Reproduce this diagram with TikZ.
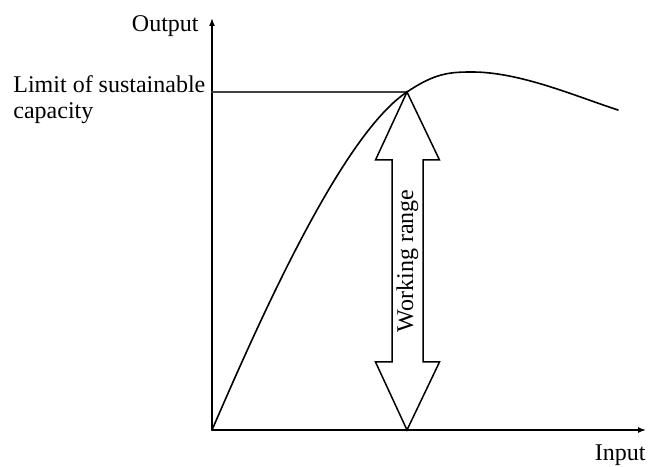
\documentclass[tikz,border=0pt]{standalone}
\usepackage{fontspec}
\setmainfont{Liberation Serif}
\usetikzlibrary{arrows.meta}
\begin{document}
\begin{tikzpicture}[x=25pt,y=25pt,line cap=round,line join=round,
  axis/.style={line width=0.75pt,-{Latex[length=4pt,width=3pt]}},
  lbl/.style={inner sep=0pt,font=\fontsize{12}{13}\selectfont}]
  \useasboundingbox (0,0) rectangle (12.96,9.32);
  \coordinate (O) at (4.24,0.72);
  \coordinate (Y) at (4.24,8.96);
  \coordinate (X) at (12.92,0.72);
  \coordinate (P) at (8.14,7.48);
  \coordinate (T) at (8.14,0.72);
  \coordinate (M) at (9.44,7.88);
  \coordinate (E) at (12.36,7.12);
  \draw[axis] (O) -- (Y);
  \draw[axis] (O) -- (X);
  \draw[line width=0.9pt,black!75] (O |- P) -- (P);
  \draw[line width=0.8pt] (O) .. controls (5.10,2.70) and (6.80,6.60) .. (P)
    .. controls (8.70,7.86) and (9.00,7.88) .. (M)
    .. controls (10.40,7.88) and (11.50,7.40) .. (E);
  \draw[line width=0.75pt,line join=miter] (P) -- (8.79,6.12) -- (8.46,6.12) -- (8.46,2.08)
    -- (8.79,2.08) -- (T) -- (7.51,2.08) -- (7.84,2.08) -- (7.84,6.12) -- (7.51,6.12) -- cycle;
  \node[lbl,rotate=90] (range) at (8.15,4.10) {Working range};
  \node[lbl,anchor=base east] (out) at (3.98,8.68) {Output};
  \node[lbl,anchor=base east] (in) at (12.92,0.10) {Input};
  \node[lbl,anchor=base west,align=left] (limit) at (0.26,6.94) {Limit of sustainable\\capacity};
\end{tikzpicture}
\end{document}
